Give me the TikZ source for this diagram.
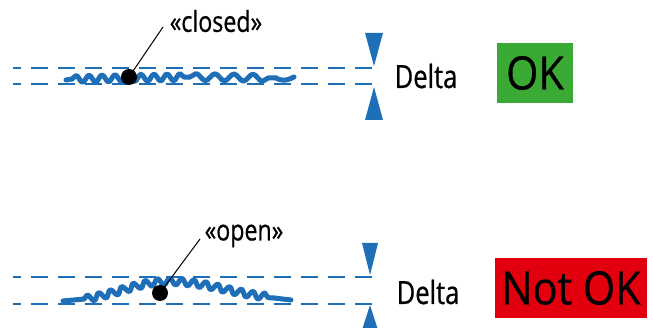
\documentclass[tikz,border=0pt]{standalone}
\usepackage{fontspec}
\setmainfont[FakeStretch=0.8, FakeBold=0.6]{Open Sans}
\newfontfamily\statusfont[FakeStretch=0.9, FakeBold=0.6]{Open Sans}
\usetikzlibrary{decorations.pathmorphing}
\definecolor{lineblue}{RGB}{31,111,184}
\definecolor{okgreen}{RGB}{58,170,53}
\definecolor{nokred}{RGB}{226,0,15}
\tikzset{
  guide/.style={lineblue, line width=2pt, dash pattern=on 17pt off 10pt, dash phase=9pt},
  wavebase/.style={lineblue, line width=5pt, line cap=round, line join=round},
  wave/.style={wavebase, decorate,
    decoration={snake, segment length=#1, amplitude=3.5pt}},
  tri/.style={fill=lineblue, draw=none},
  dot/.style={circle, fill=black, inner sep=0pt, minimum size=16pt},
  lbl/.style={font=\fontsize{29}{31}\selectfont, inner sep=0pt},
  deltalbl/.style={font=\fontsize{32}{34}\selectfont, inner sep=0pt},
  status/.style={font=\statusfont\fontsize{46}{48}\selectfont, inner sep=0pt, text=black},
  leader/.style={black, line width=1pt}
}
\begin{document}
\begin{tikzpicture}[x=1pt, y=-1pt]
\useasboundingbox (0,0) rectangle (653,328);
% ---- top: closed ----
\coordinate (g1a) at (13,68);
\coordinate (g1b) at (377,68);
\coordinate (g2a) at (13,84);
\coordinate (g2b) at (377,84);
\draw[guide] (g1a) -- (g1b);
\draw[guide] (g2a) -- (g2b);
\coordinate (w1a) at (66,80);
\coordinate (w1m) at (72,79);
\coordinate (w1n) at (190,77);
\coordinate (w1o) at (276,78);
\coordinate (w1b) at (294,77);
\draw[wavebase] (w1a) -- (w1m);
\draw[wave=13pt] (w1m) -- (w1n);
\draw[wave=19pt] (w1n) -- (w1o);
\draw[wavebase] (w1o) .. controls (283,82) and (288,80) .. (w1b);
\node[dot] (d1) at (129,77) {};
\node[lbl] (t1) at (216,21) {«closed»};
\draw[leader] (d1.center) -- (163,27);
\fill[tri] (365,33) -- (383,33) -- (374,66) -- cycle;
\fill[tri] (365,120) -- (383,120) -- (374,87) -- cycle;
\node[deltalbl] (dl1) at (426,76) {Delta};
\node[fill=okgreen, minimum width=76pt, minimum height=60pt, inner sep=0pt] (ok) at (535,73) {};
\node[status] (oktxt) at (ok.center) {OK};
% ---- bottom: open ----
\coordinate (g3a) at (13,277);
\coordinate (g3b) at (377,277);
\coordinate (g4a) at (13,304);
\coordinate (g4b) at (377,304);
\draw[guide] (g3a) -- (g3b);
\draw[guide] (g4a) -- (g4b);
\coordinate (w2a) at (63,301);
\coordinate (w2m) at (84,299);
\coordinate (w2n) at (274,298);
\coordinate (w2b) at (291,300);
\draw[wavebase] (w2a) -- (w2m);
\draw[wave=12pt] (w2m) .. controls (120,293) and (135,282) .. (167,282)
   .. controls (205,282) and (235,296) .. (w2n);
\draw[wavebase] (w2n) -- (w2b);
\node[dot] (d2) at (160,293) {};
\node[lbl] (t2) at (244,236) {«open»};
\draw[leader] (d2.center) -- (200,239);
\fill[tri] (362,243) -- (378,243) -- (370,275) -- cycle;
\fill[tri] (362,330) -- (378,330) -- (370,305) -- cycle;
\node[deltalbl] (dl2) at (428,292) {Delta};
\node[fill=nokred, minimum width=152pt, minimum height=60pt, inner sep=0pt] (nok) at (571,288) {};
\node[status] (noktxt) at (nok.center) {Not OK};
\end{tikzpicture}
\end{document}
